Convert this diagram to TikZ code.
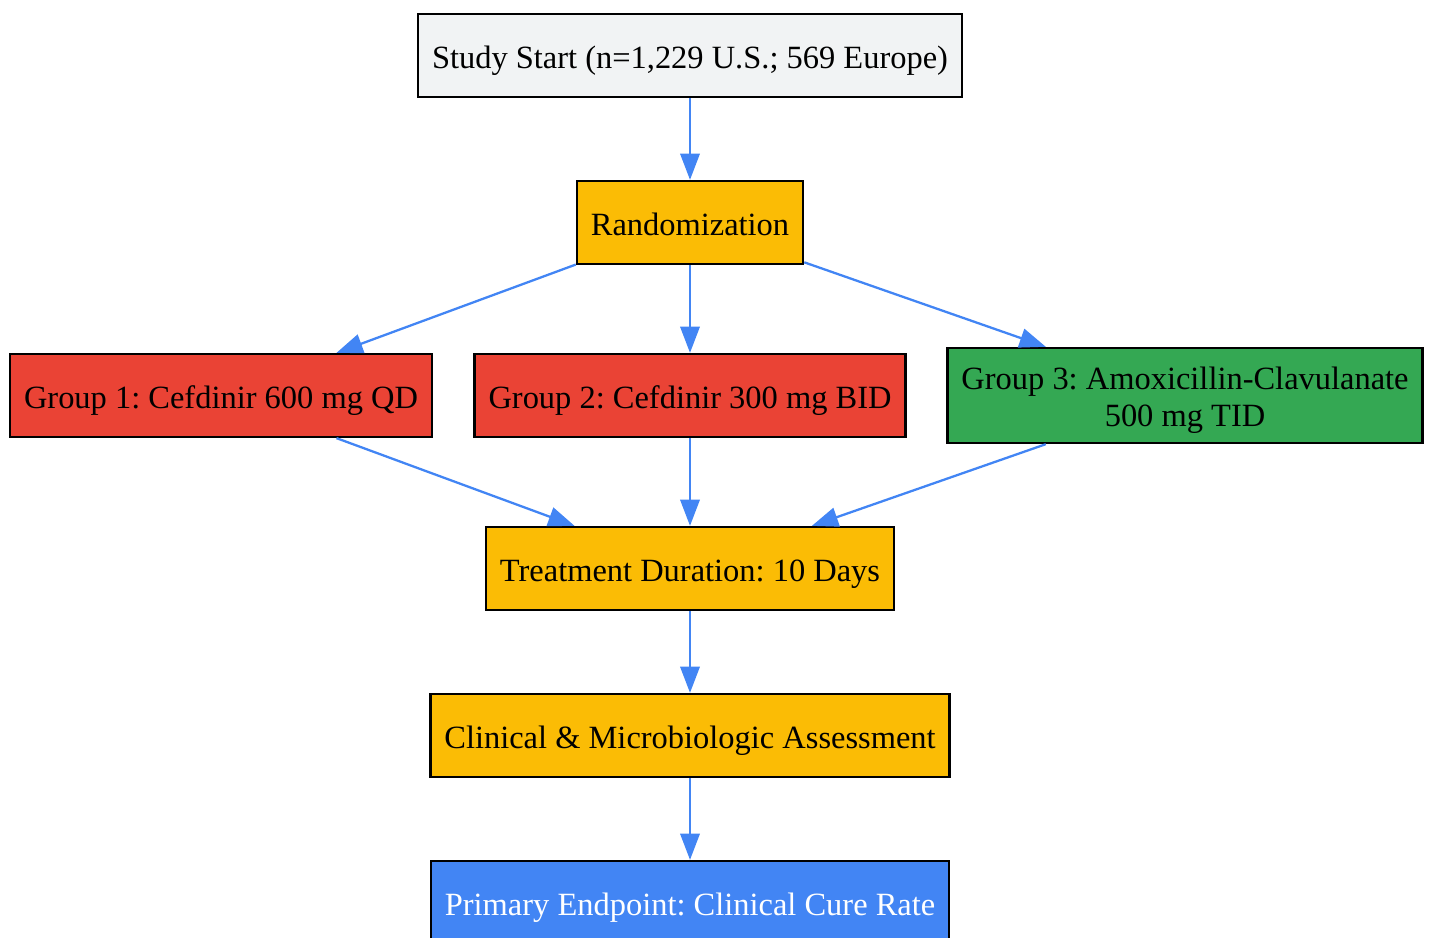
\documentclass[tikz,border=0pt]{standalone}
\usepackage{fontspec}
\setmainfont{Liberation Serif}
\usepackage{xcolor}
\usetikzlibrary{arrows.meta}

\definecolor{startgray}{HTML}{F1F3F4}
\definecolor{gyellow}{HTML}{FBBC05}
\definecolor{gred}{HTML}{EA4335}
\definecolor{ggreen}{HTML}{34A853}
\definecolor{gblue}{HTML}{4285F4}

\begin{document}
\frenchspacing
\begin{tikzpicture}[x=0.4375pt,y=-0.4375pt]
\tikzset{every node/.style={draw=black,line width=1pt,rectangle,minimum height=36.3pt,inner xsep=6.1pt}}
\tikzset{oneline/.style={text height=14pt,text depth=3pt}}
\tikzset{stage/.style={oneline,fill=gyellow}}
\tikzset{arm/.style={oneline,fill=gred}}
\tikzset{edge/.style={draw=gblue,line width=1pt,-{Triangle[length=11.5pt,width=8.5pt]}}}

\fontsize{14.2}{16.4}\selectfont

\useasboundingbox (0,0) rectangle (1429,938);

\node[oneline,fill=startgray] (start) at (690,55.5) {Study Start (n=1,229 U.S.; 569 Europe)};
\node[stage] (rand) at (690,222.5) {Randomization};
\node[arm] (grp1) at (221,395.5) {Group 1: Cefdinir 600 mg QD};
\node[arm] (grp2) at (690,395.5) {Group 2: Cefdinir 300 mg BID};
\node[fill=ggreen,align=center,text height=30.3pt,text depth=3pt,inner ysep=2pt,minimum height=41.6pt] (grp3) at (1185,395.5) {Group 3: Amoxicillin-Clavulanate\\500 mg TID};
\node[stage] (treat) at (690,568.5) {Treatment Duration: 10 Days};
\node[stage] (assess) at (690,735.5) {Clinical \& Microbiologic Assessment};
\node[oneline,fill=gblue,text=white] (endpt) at (690,902.5) {Primary Endpoint: Clinical Cure Rate};

\draw[edge] (start) -- (rand);
\draw[edge] (rand) -- (grp1);
\draw[edge] (rand) -- (grp2);
\draw[edge] (rand) -- (grp3);
\draw[edge] (grp1) -- (treat);
\draw[edge] (grp2) -- (treat);
\draw[edge] (grp3) -- (treat);
\draw[edge] (treat) -- (assess);
\draw[edge] (assess) -- (endpt);

\end{tikzpicture}
\end{document}
